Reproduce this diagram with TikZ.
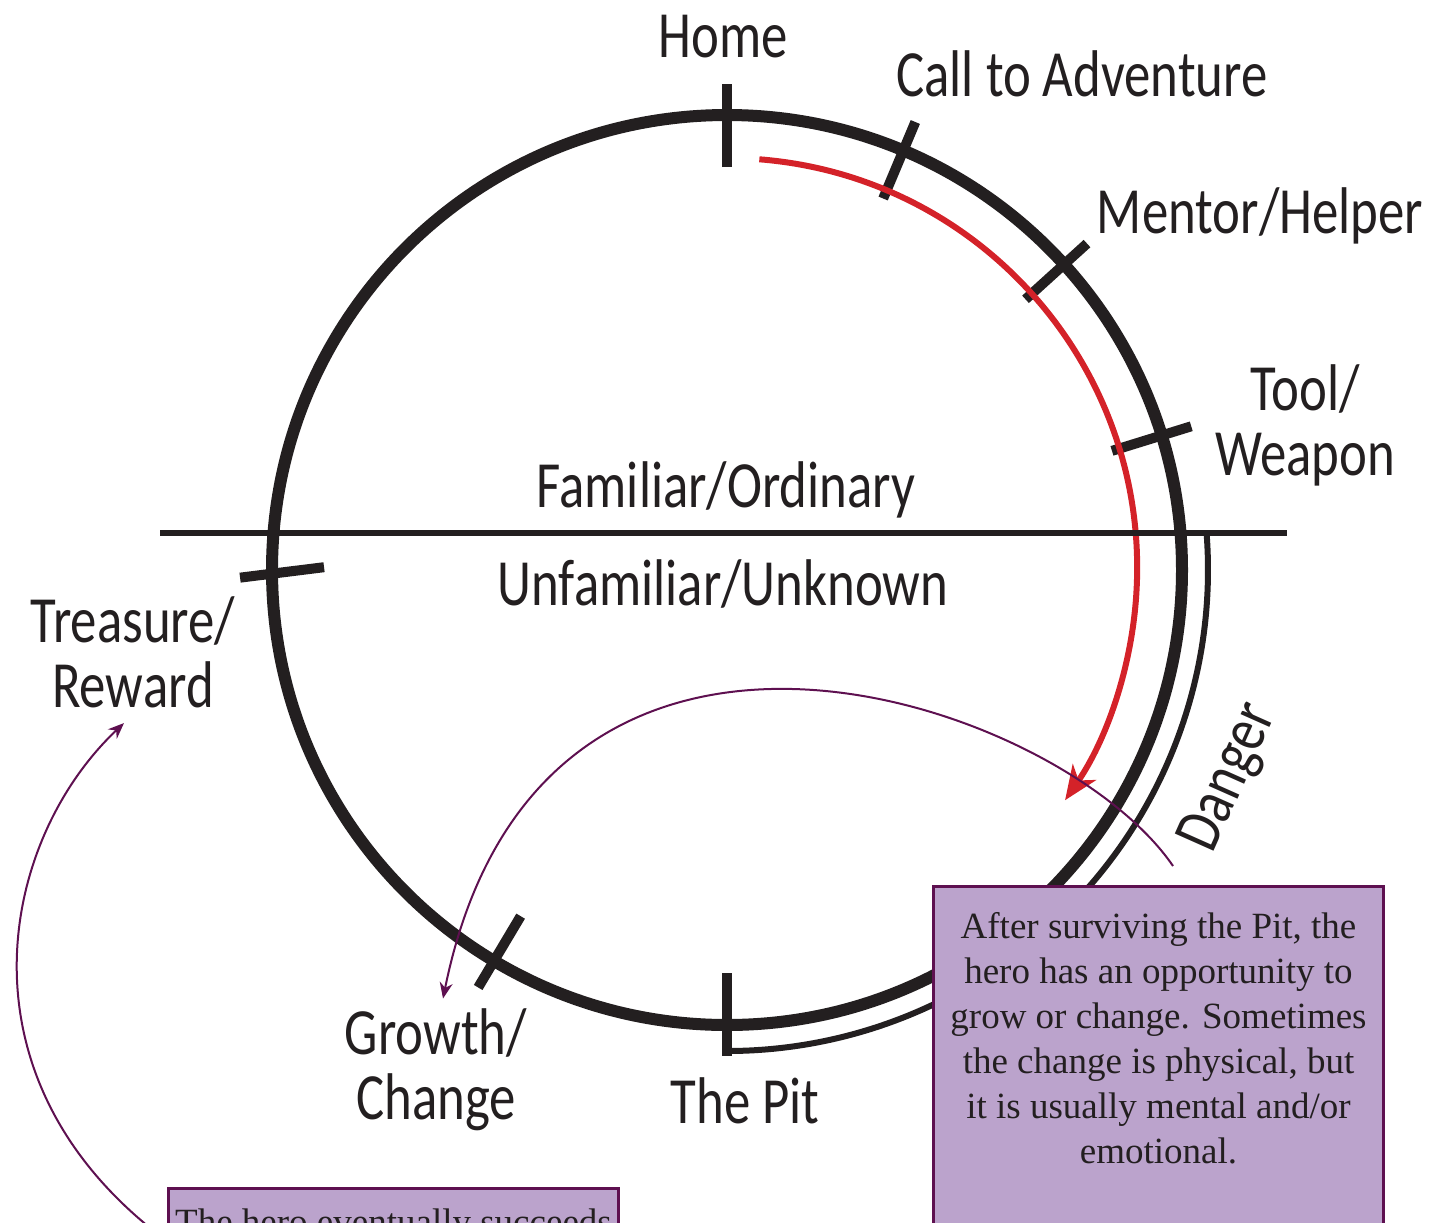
\documentclass[tikz,border=0pt]{standalone}
\usepackage{fontspec}
\setmainfont{Liberation Serif}
\newfontfamily\handfont[FakeStretch=0.8]{Carlito}
\usepackage{tikz}
\usetikzlibrary{arrows.meta, calc, positioning}
\definecolor{ink}{HTML}{231F20}
\definecolor{inkred}{HTML}{D42229}
\definecolor{plum}{HTML}{5E1050}
\definecolor{lilac}{HTML}{BBA3CC}

\begin{document}
\begin{tikzpicture}[
    x=0.5pt, y=-0.5pt,
    stage/.style={font=\handfont\fontsize{33}{32.5}\selectfont, text=ink, align=center, inner sep=0pt},
    ring/.style={draw=ink, line width=6pt},
    notch/.style={draw=ink, line width=5pt},
    divider/.style={draw=ink, line width=3pt},
    journey/.style={draw=inkred, line width=3pt, -{Stealth[length=17pt, width=14pt, inset=5pt]}},
    note/.style={rectangle, draw=plum, line width=1.5pt, fill=lilac, anchor=north west, inner xsep=0pt, inner ysep=13pt, font=\fontsize{18.5}{22.5}\selectfont, text=ink},
    pointer/.style={draw=plum, line width=1pt, -{Stealth[length=8pt, width=6.5pt]}}
  ]

    \useasboundingbox (0,0) rectangle (1445,1222);
    \clip (0,0) rectangle (1445,1222);

    % Circle
    \coordinate (c) at (727,570);
    \draw[ring] (c) circle[radius=455];

    % Stage marks (angles are flipped, y runs down)
    \foreach \a in {-90,-67.2,-42.2,-17.2,120.8,90}
      \draw[notch] ($(c)+(\a:403)$) -- ($(c)+(\a:486)$);
    \draw[notch] ($(c)+(180.4:403)$) -- ($(c)+(179.1:487)$);

    % Road and danger arc
    \draw[journey] ($(c)+(-85.5:412)$) arc[start angle=-85.5, end angle=34.5, radius=410];
    \draw[divider] ($(c)+(-4.2:481)$) arc[start angle=-4.2, end angle=90, radius=481];

    % Border between worlds
    \coordinate (westend) at (160,533);
    \coordinate (eastend) at (1287,533);
    \draw[divider] (westend) -- (eastend);

    % Stages
    \node[stage] (home) at (723,37) {Home};
    \node[stage] (call) at (1082,74) {Call to Adventure};
    \node[stage] (mentor) at (1260,216) {Mentor/Helper};
    \node[stage] (tool) at (1305,425) {Tool/\\Weapon};
    \node[stage] (familiar) at (726,490) {Familiar/Ordinary};
    \node[stage] (unfamiliar) at (723,584) {Unfamiliar/Unknown};
    \node[stage] (treasure) at (133,652) {Treasure/\\Reward};
    \node[stage, rotate=66] (danger) at (1230,778) {Danger};
    \node[stage] (growth) at (436,1070) {Growth/\\Change};
    \node[stage] (pit) at (745,1101) {The Pit};

    % Notes
    \coordinate (growfrom) at (1173,866);
    \draw[pointer] (growfrom) .. controls (1060,700) and (540,520) .. ([xshift=3.5pt, yshift=5pt]growth.north);

    \node[note] (change) at (932,885) {\begin{minipage}[t][190pt][t]{225pt}\centering
      After surviving the Pit, the\\ hero has an opportunity to\\ grow or change. Sometimes\\ the change is physical, but\\ it is usually mental and/or\\ emotional.\end{minipage}};
    \node[note, inner ysep=10pt] (succeed) at (167,1187) {\begin{minipage}[t][100pt][t]{225pt}\centering
      The hero eventually succeeds\end{minipage}};

    \draw[pointer] ([yshift=-27pt]succeed.north west) .. controls (-50,1080) and (0,840) .. ([xshift=-4.5pt, yshift=-7.5pt]treasure.south);

\end{tikzpicture}
\end{document}
